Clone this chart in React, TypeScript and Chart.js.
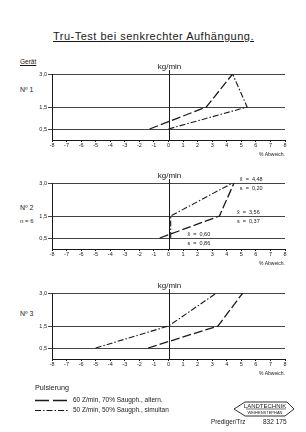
import React, { useEffect, useRef } from "react";
import { Chart, registerables } from "chart.js";

Chart.register(...registerables);

// ---- data ----
const Y_LEVELS = [0.5, 1.5, 3.0];
const X_MIN = -8;
const X_MAX = 8;
// x value (% Abweichung) at each kg/min level, per panel
const P1_DASHED = [-1.3, 2.6, 4.4];
const P1_DASHDOT = [0.0, 5.4, 4.4];
const P2_DASHED = [-0.6, 3.5, 4.5];
const P2_DASHDOT = [0.15, 0.15, 4.4];
const P3_DASHED = [-1.4, 3.4, 5.1];
const P3_DASHDOT = [-5.0, 0.0, 3.3];
const SERIES_LABELS = ["60 Z/min, 70% Saugph., altern.", "50 Z/min, 50% Saugph., simultan"];
// panel 2 statistics, in the order of Y_LEVELS
const P2_MEANS = ["0,60", "3,56", "4,48"];
const P2_SDS = ["0,86", "0,37", "0,20"];
const P2_ANN_X = [1.3, 4.7, 4.9];

const FAMILY = '"Liberation Sans", Arial, sans-serif';
const INK = "#1a1a1a";
const DASHED = [9, 3];
const DASHDOT = [6, 2, 1.5, 2];

const zeroLinePlugin = {
  id: "zeroLine",
  beforeDatasetsDraw(chart: any) {
    const { ctx, chartArea, scales } = chart;
    const x = Math.round(scales.x.getPixelForValue(0)) + 0.5;
    ctx.save();
    ctx.strokeStyle = INK;
    ctx.lineWidth = 1;
    ctx.beginPath();
    ctx.moveTo(x, chartArea.top - 4);
    ctx.lineTo(x, chartArea.bottom);
    ctx.stroke();
    ctx.font = `8px ${FAMILY}`;
    ctx.fillStyle = INK;
    ctx.textAlign = "center";
    ctx.textBaseline = "middle";
    ctx.fillText("kg/min", x, chartArea.top - 7.5);
    ctx.restore();
  },
};

const annPlugin = {
  id: "ann",
  afterDatasetsDraw(chart: any, _args: any, opts: any) {
    if (!opts || !opts.show) return;
    const { ctx, scales } = chart;
    ctx.save();
    ctx.font = `5.5px ${FAMILY}`;
    ctx.fillStyle = INK;
    ctx.textAlign = "left";
    ctx.textBaseline = "middle";
    Y_LEVELS.forEach((lv, i) => {
      const px = scales.x.getPixelForValue(P2_ANN_X[i]);
      const py = scales.y.getPixelForValue(lv);
      ctx.fillText(`x\u0304  =  ${P2_MEANS[i]}`, px, py - 4);
      ctx.fillText(`s  =  ${P2_SDS[i]}`, px, py + 5);
    });
    ctx.restore();
  },
};

const legendPlugin = {
  id: "legendRows",
  afterDraw(chart: any, _args: any, opts: any) {
    if (!opts || !opts.show) return;
    const { ctx } = chart;
    const h = chart.height;
    ctx.save();
    chart.data.datasets.forEach((ds: any, i: number) => {
      const y = Math.round(h - 15 + i * 10) + 0.5;
      ctx.strokeStyle = INK;
      ctx.lineWidth = ds.borderWidth;
      ctx.setLineDash(i === 0 ? [14, 4] : DASHDOT);
      ctx.beginPath();
      ctx.moveTo(35, y);
      ctx.lineTo(68, y);
      ctx.stroke();
      ctx.setLineDash([]);
      ctx.font = `6.5px ${FAMILY}`;
      ctx.fillStyle = INK;
      ctx.textAlign = "left";
      ctx.textBaseline = "middle";
      ctx.fillText(ds.label, 73, y);
    });
    ctx.restore();
  },
};

type PanelProps = {
  top: number;
  height: number;
  padBottom: number;
  dashed: number[];
  dashdot: number[];
  ann?: boolean;
  legend?: boolean;
};

function Panel({ top, height, padBottom, dashed, dashdot, ann, legend }: PanelProps) {
  const ref = useRef<HTMLCanvasElement>(null);
  useEffect(() => {
    const chart = new Chart(ref.current as HTMLCanvasElement, {
      type: "scatter",
      data: {
        datasets: [
          {
            label: SERIES_LABELS[0],
            data: dashed.map((x, i) => ({ x, y: Y_LEVELS[i] })),
            showLine: true,
            borderColor: INK,
            borderWidth: 1.3,
            borderDash: DASHED,
            pointRadius: 0,
            fill: false,
          },
          {
            label: SERIES_LABELS[1],
            data: dashdot.map((x, i) => ({ x, y: Y_LEVELS[i] })),
            showLine: true,
            borderColor: INK,
            borderWidth: 1.1,
            borderDash: DASHDOT,
            pointRadius: 0,
            fill: false,
          },
        ],
      },
      options: {
        animation: false,
        responsive: false,
        devicePixelRatio: 1,
        layout: { padding: { top: 14, left: 0, right: 21, bottom: padBottom } },
        plugins: {
          legend: { display: false },
          tooltip: { enabled: false },
          ann: { show: !!ann },
          legendRows: { show: !!legend },
        } as any,
        scales: {
          x: {
            type: "linear",
            min: X_MIN,
            max: X_MAX,
            ticks: {
              stepSize: 1,
              autoSkip: false,
              maxRotation: 0,
              padding: 0,
              font: { size: 5.5, family: FAMILY },
              color: INK,
            },
            grid: { drawOnChartArea: false, drawTicks: true, tickLength: 2, color: INK },
            border: { display: true, color: INK, width: 1 },
            title: {
              display: true,
              text: "% Abweich.",
              align: "end",
              font: { size: 5, family: FAMILY },
              padding: { top: 0, bottom: 0 },
              color: INK,
            },
            afterFit: (s: any) => {
              s.height = 18;
            },
          },
          y: {
            type: "linear",
            min: 0,
            max: 3,
            afterBuildTicks: (s: any) => {
              s.ticks = Y_LEVELS.map((v) => ({ value: v }));
            },
            ticks: {
              callback: (v: any) => Number(v).toFixed(1).replace(".", ","),
              font: { size: 5.5, family: FAMILY },
              padding: 1,
              color: INK,
            },
            grid: { color: "#444", tickLength: 4, lineWidth: 1 },
            border: { display: true, color: INK, width: 1 },
            afterFit: (s: any) => {
              s.width = 52;
            },
          },
        } as any,
      },
      plugins: [zeroLinePlugin, annPlugin, legendPlugin],
    });
    return () => chart.destroy();
  }, []);
  return (
    <canvas
      ref={ref}
      width={306}
      height={height}
      style={{ position: "absolute", left: 0, top, width: 306, height }}
    />
  );
}

function T({
  x,
  y,
  size,
  children,
  underline,
  center,
  spacing,
}: {
  x: number;
  y: number;
  size: number;
  children: React.ReactNode;
  underline?: boolean;
  center?: boolean;
  spacing?: number;
}) {
  return (
    <div
      style={{
        position: "absolute",
        left: center ? x - 100 : x,
        width: center ? 200 : undefined,
        textAlign: center ? "center" : "left",
        top: y - size / 2,
        fontSize: size,
        lineHeight: `${size}px`,
        fontFamily: FAMILY,
        color: INK,
        whiteSpace: "nowrap",
        textDecoration: underline ? "underline" : "none",
        letterSpacing: spacing ? spacing : undefined,
      }}
    >
      {children}
    </div>
  );
}

export default function App() {
  return (
    <div
      style={{
        position: "absolute",
        left: 0,
        top: 0,
        width: 306,
        height: 432,
        background: "#fff",
        overflow: "hidden",
      }}
    >
      <T x={53} y={36.5} size={11} underline spacing={0.5}>
        Tru-Test bei senkrechter Aufhängung.
      </T>
      <T x={20} y={62} size={6.5} underline>
        Gerät
      </T>
      <T x={20} y={89} size={7}>
        Nº 1
      </T>
      <T x={20} y={207} size={7}>
        Nº 2
      </T>
      <T x={20} y={221} size={6}>
        n = 6
      </T>
      <T x={20} y={313} size={7}>
        Nº 3
      </T>

      <Panel top={60} height={98} padBottom={0} dashed={P1_DASHED} dashdot={P1_DASHDOT} />
      <Panel top={169} height={98} padBottom={0} dashed={P2_DASHED} dashdot={P2_DASHDOT} ann />
      <Panel top={279} height={136} padBottom={38} dashed={P3_DASHED} dashdot={P3_DASHDOT} legend />

      <T x={35} y={388} size={7.2}>
        Pulsierung
      </T>
      <T x={211} y={422} size={6.3}>
        Prediger/Trz
      </T>
      <T x={263} y={422} size={6.5}>
        832 175
      </T>
      <svg
        width={306}
        height={432}
        style={{ position: "absolute", left: 0, top: 0, pointerEvents: "none" }}
      >
        <polyline
          points="234,409 245,402 287,402 294,409 285,416 245,416 234,409"
          fill="none"
          stroke={INK}
          strokeWidth={0.9}
        />
        <line x1={246} y1={409} x2={286} y2={409} stroke={INK} strokeWidth={0.6} />
      </svg>
      <T x={265} y={405.5} size={6} center>
        LANDTECHNIK
      </T>
      <T x={265} y={412.5} size={4} center>
        WEIHENSTEPHAN
      </T>
    </div>
  );
}
